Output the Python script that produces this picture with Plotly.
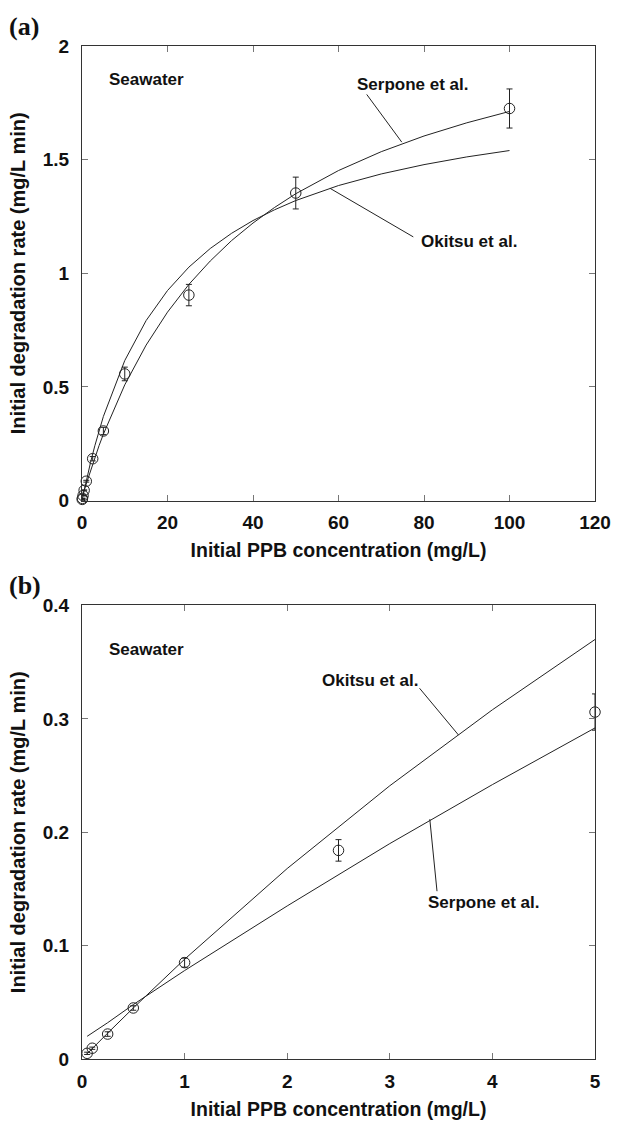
import plotly.graph_objects as go

# ---- data ----
conc = [0.05, 0.1, 0.25, 0.5, 1, 2.5, 5, 10, 25, 50, 100]
rate = [0.005, 0.0095, 0.022, 0.045, 0.085, 0.184, 0.306, 0.557, 0.904, 1.353, 1.725]
rate_err = [0.001, 0.001, 0.002, 0.002, 0.004, 0.0095, 0.016, 0.03, 0.047, 0.07, 0.086]

model_x = [0.05, 0.1, 0.25, 0.5, 1, 2, 3, 4, 5, 10, 15, 20, 25, 30, 35, 40, 45, 50,
           60, 70, 80, 90, 100]
okitsu_y = [0.0046, 0.0092, 0.0228, 0.045, 0.088, 0.168, 0.241, 0.308, 0.370, 0.616,
            0.792, 0.924, 1.027, 1.109, 1.176, 1.232, 1.279, 1.320, 1.386, 1.437,
            1.478, 1.512, 1.540]
serpone_y = [0.020, 0.023, 0.032, 0.048, 0.078, 0.135, 0.190, 0.242, 0.292, 0.509,
             0.684, 0.829, 0.951, 1.054, 1.144, 1.221, 1.289, 1.350, 1.452, 1.535,
             1.604, 1.662, 1.712]

x_ticks_a = [0, 20, 40, 60, 80, 100, 120]
y_ticks_a = [0, 0.5, 1, 1.5, 2]
x_ticks_b = [0, 1, 2, 3, 4, 5]
y_ticks_b = [0, 0.1, 0.2, 0.3, 0.4]

x_title = "Initial PPB concentration (mg/L)"
y_title = "Initial degradation rate (mg/L min)"

LINE = "#222222"
FONT = "Liberation Sans"

fig = go.Figure()


def add_panel(xa, ya, xmax):
    mx = [x for x in model_x if x <= xmax]
    n = len(mx)
    fig.add_trace(go.Scatter(x=mx, y=okitsu_y[:n], mode="lines",
                             line=dict(color=LINE, width=1), xaxis=xa, yaxis=ya,
                             showlegend=False, hoverinfo="skip"))
    fig.add_trace(go.Scatter(x=mx, y=serpone_y[:n], mode="lines",
                             line=dict(color=LINE, width=1), xaxis=xa, yaxis=ya,
                             showlegend=False, hoverinfo="skip"))
    dx = [c for c in conc if c <= xmax]
    m = len(dx)
    fig.add_trace(go.Scatter(x=dx, y=rate[:m], mode="markers",
                             marker=dict(symbol="circle-open", size=10.5,
                                         color=LINE, line=dict(width=1, color=LINE)),
                             error_y=dict(type="data", array=rate_err[:m], visible=True,
                                          color=LINE, thickness=1, width=3),
                             cliponaxis=False, xaxis=xa, yaxis=ya, showlegend=False))


add_panel("x", "y", 120)
add_panel("x2", "y2", 5)

axis_common = dict(
    showgrid=False, zeroline=False, showline=True, linecolor="#333333", linewidth=1,
    mirror="ticks", ticks="inside", ticklen=6, tickcolor="#777777", tickwidth=1,
    tickfont=dict(family=FONT, size=19, color="#111111", weight="bold"),
)
xtitle_font = dict(family=FONT, size=19.5, color="#111111", weight="bold")
ytitle_font = dict(family=FONT, size=20, color="#111111", weight="bold")

fig.update_layout(
    width=623, height=1128,
    margin=dict(l=82, r=16, t=46, b=59),
    paper_bgcolor="white", plot_bgcolor="white",
    xaxis=dict(domain=[0, 1], anchor="y", range=[0, 120], tickvals=x_ticks_a,
               ticklabelstandoff=5,
               title=dict(text=x_title, font=xtitle_font, standoff=11), **axis_common),
    yaxis=dict(domain=[0.5513, 1], anchor="x", range=[0, 2], tickvals=y_ticks_a,
               ticklabelstandoff=8,
               title=dict(text=y_title, font=ytitle_font, standoff=11), **axis_common),
    xaxis2=dict(domain=[0, 1], anchor="y2", range=[0, 5], tickvals=x_ticks_b,
                ticklabelstandoff=5,
                title=dict(text=x_title, font=xtitle_font, standoff=11), **axis_common),
    yaxis2=dict(domain=[0, 0.4477], anchor="x2", range=[0, 0.4], tickvals=y_ticks_b,
                ticklabelstandoff=8,
                title=dict(text=y_title, font=ytitle_font, standoff=11), **axis_common),
)

ann_font = dict(family=FONT, size=17, color="#111111", weight="bold")
annotations = [
    dict(text="Seawater", x=5.9, y=1.854, xref="x", yref="y", xanchor="left"),
    dict(text="Serpone et al.", x=77.4, y=1.83, xref="x", yref="y"),
    dict(text="Okitsu et al.", x=90.6, y=1.141, xref="x", yref="y"),
    dict(text="Seawater", x=0.247, y=0.361, xref="x2", yref="y2", xanchor="left"),
    dict(text="Okitsu et al.", x=2.81, y=0.334, xref="x2", yref="y2"),
    dict(text="Serpone et al.", x=3.91, y=0.138, xref="x2", yref="y2"),
]
for a in annotations:
    fig.add_annotation(showarrow=False, font=ann_font, **a)

panel_font = dict(family="Liberation Serif", size=26, color="#111111", weight="bold")
fig.add_annotation(text="(a)", x=-0.1467, y=1.0196, xref="paper", yref="paper",
                   xanchor="left", yanchor="middle", showarrow=False, font=panel_font)
fig.add_annotation(text="(b)", x=-0.1467, y=0.4673, xref="paper", yref="paper",
                   xanchor="left", yanchor="middle", showarrow=False, font=panel_font)

leaders = [
    ("x", "y", 66.6, 1.787, 74.8, 1.577),
    ("x", "y", 77.5, 1.16, 58.0, 1.374),
    ("x2", "y2", 3.29, 0.327, 3.67, 0.2857),
    ("x2", "y2", 3.46, 0.148, 3.39, 0.2115),
]
for xr, yr, x0, y0, x1, y1 in leaders:
    fig.add_shape(type="line", xref=xr, yref=yr, x0=x0, y0=y0, x1=x1, y1=y1,
                  line=dict(color=LINE, width=1))

fig.write_html("out.html")
